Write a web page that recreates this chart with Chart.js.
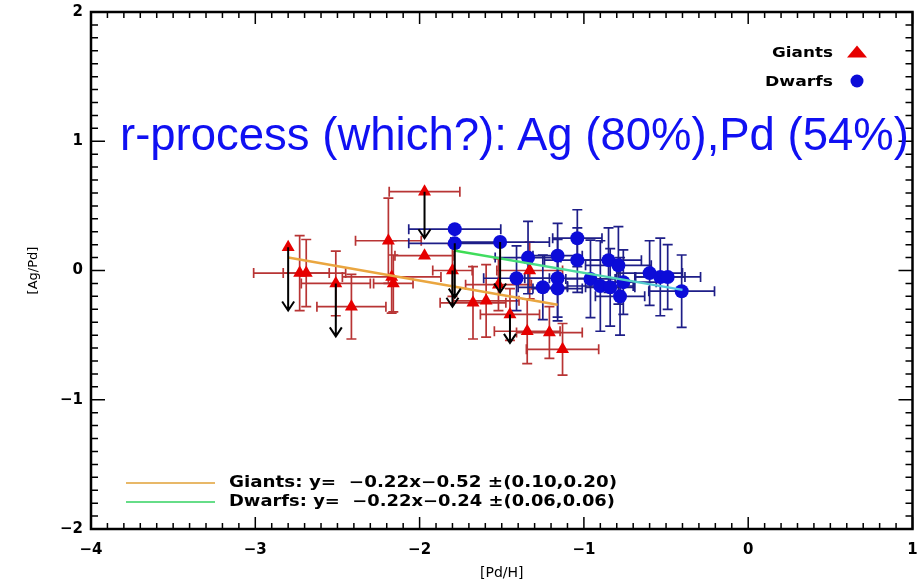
<!DOCTYPE html>
<html><head><meta charset="utf-8">
<script src="https://cdn.jsdelivr.net/npm/chart.js@4/dist/chart.umd.min.js"></script>
<style>
html,body{margin:0;padding:0;background:#fff;}
#wrap{position:relative;width:920px;height:584px;}
#title{position:absolute;left:120px;top:112px;font-family:"Liberation Sans",Arial,sans-serif;font-size:45.5px;line-height:45.5px;color:#1010f2;white-space:nowrap;}
</style></head><body>
<div id="wrap"><canvas id="c" width="920" height="584"></canvas><div id="title">r-process (which?): Ag (80%),Pd (54%)</div></div>
<script>
// ---- data ----
const giantsX    = [-2.80,-2.73,-2.69,-2.51,-2.415,-2.19,-2.17,-2.16,-1.97,-1.97,-1.80,-1.675,-1.595,-1.52,-1.45,-1.345,-1.21,-1.13,-1.33];
const giantsY    = [ 0.18,-0.02,-0.02,-0.10,-0.28, 0.23,-0.05,-0.10, 0.61, 0.115, 0.00,-0.25,-0.235,-0.11,-0.34,-0.47,-0.48,-0.61, 0.00];
const giantsXErr = [ 0.00, 0.28, 0.14, 0.21, 0.21, 0.20, 0.30, 0.12, 0.215,0.18, 0.12, 0.20, 0.20, 0.20, 0.18, 0.20, 0.20, 0.22, 0.20];
const giantsYErr = [ 0.00, 0.29, 0.26, 0.25, 0.25, 0.33, 0.28, 0.22, 0.00, 0.00, 0.20, 0.28, 0.28, 0.20, 0.20, 0.25, 0.20, 0.20, 0.22];
const giantsLimitTo = [-0.31,null,null,-0.51,null,null,null,null,0.25,null,-0.28,null,null,null,-0.56,null,null,null,null];

const dwarfsX    = [-1.786,-1.786,-1.51,-1.41,-1.34,-1.25,-1.16,-1.16,-1.16,-1.04,-1.04,-0.96,-0.90,-0.85,-0.84,-0.79,-0.78,-0.76,-0.60,-0.535,-0.49,-0.405];
const dwarfsY    = [ 0.32, 0.21, 0.22,-0.06, 0.10,-0.13, 0.115,-0.06,-0.14, 0.25, 0.08,-0.065,-0.12, 0.08,-0.13, 0.04,-0.20,-0.09,-0.02,-0.05,-0.05,-0.16];
const dwarfsXErr = [ 0.28, 0.28, 0.30, 0.20, 0.20, 0.15, 0.15, 0.20, 0.15, 0.15, 0.20, 0.15, 0.20, 0.20, 0.15, 0.20, 0.15, 0.20, 0.20, 0.15, 0.20, 0.20];
const dwarfsYErr = [ 0.00, 0.00, 0.00, 0.25, 0.28, 0.25, 0.25, 0.30, 0.25, 0.22, 0.25, 0.30, 0.35, 0.25, 0.30, 0.30, 0.30, 0.25, 0.25, 0.30, 0.25, 0.28];
const dwarfsLimitTo = [null,-0.21,-0.17,null,null,null,null,null,null,null,null,null,null,null,null,null,null,null,null,null,null,null];

const giantsFitX = [-2.80, -1.16];
const giantsFitY = [ 0.10, -0.265];
const dwarfsFitX = [-1.79, -0.40];
const dwarfsFitY = [ 0.155, -0.15];

const xTicks = [-4,-3,-2,-1,0,1];
const yTicks = [-2,-1,0,1,2];
const fitLabels = ["Giants: y=  \u22120.22x\u22120.52 \u00b1(0.10,0.20)", "Dwarfs: y=  \u22120.22x\u22120.24 \u00b1(0.06,0.06)"];
const seriesNames = ["Giants","Dwarfs"];

// ---- styles ----
const RED = '#e60000', BLUE = '#0c0cd8', RED_ERR = '#b83434', BLUE_ERR = '#1e1e88';
const ORANGE = '#eaa640';

const pts = (xs, ys) => xs.map((x,i)=>({x, y: ys[i]}));
const minus = v => v < 0 ? '\u2212' + Math.abs(v) : String(v);

function drawErrors(ctx, sx, sy, xs, ys, xe, ye, color){
  ctx.strokeStyle = color; ctx.lineWidth = 1.7;
  for (let i=0;i<xs.length;i++){
    const px = sx.getPixelForValue(xs[i]), py = sy.getPixelForValue(ys[i]);
    ctx.beginPath();
    if (xe[i] > 0){
      const x0 = sx.getPixelForValue(xs[i]-xe[i]), x1 = sx.getPixelForValue(xs[i]+xe[i]);
      ctx.moveTo(x0,py); ctx.lineTo(x1,py);
      ctx.moveTo(x0,py-5); ctx.lineTo(x0,py+5);
      ctx.moveTo(x1,py-5); ctx.lineTo(x1,py+5);
    }
    if (ye[i] > 0){
      const y0 = sy.getPixelForValue(ys[i]-ye[i]), y1 = sy.getPixelForValue(ys[i]+ye[i]);
      ctx.moveTo(px,y0); ctx.lineTo(px,y1);
      ctx.moveTo(px-5,y0); ctx.lineTo(px+5,y0);
      ctx.moveTo(px-5,y1); ctx.lineTo(px+5,y1);
    }
    ctx.stroke();
  }
}
function drawArrows(ctx, sx, sy, xs, ys, tips){
  ctx.strokeStyle = '#000'; ctx.lineWidth = 2;
  for (let i=0;i<xs.length;i++){
    if (tips[i] === null) continue;
    const px = sx.getPixelForValue(xs[i]), py = sy.getPixelForValue(ys[i]), ty = sy.getPixelForValue(tips[i]);
    ctx.beginPath();
    ctx.moveTo(px,py); ctx.lineTo(px,ty);
    ctx.moveTo(px-6,ty-9); ctx.lineTo(px,ty); ctx.lineTo(px+6,ty-9);
    ctx.stroke();
  }
}
function fitText(ctx, text, x, y, width){
  const w = ctx.measureText(text).width;
  ctx.save(); ctx.translate(x, y); ctx.scale(width/w, 1);
  ctx.fillText(text, 0, 0); ctx.restore();
}

const errPlugin = {
  id:'errs',
  beforeDatasetsDraw(chart){
    const {ctx, scales:{x,y}} = chart;
    ctx.save();
    drawErrors(ctx,x,y,giantsX,giantsY,giantsXErr,giantsYErr,RED_ERR);
    drawErrors(ctx,x,y,dwarfsX,dwarfsY,dwarfsXErr,dwarfsYErr,BLUE_ERR);
    ctx.restore();
  },
  afterDatasetsDraw(chart){
    const {ctx, scales:{x,y}} = chart;
    ctx.save();
    drawArrows(ctx,x,y,giantsX,giantsY,giantsLimitTo);
    drawArrows(ctx,x,y,dwarfsX,dwarfsY,dwarfsLimitTo);
    ctx.restore();
  }
};

const framePlugin = {
  id:'frame',
  afterDraw(chart){
    const {ctx, chartArea:a, scales:{x,y}} = chart;
    ctx.save();
    ctx.strokeStyle = '#000';
    ctx.lineWidth = 1.5;
    ctx.beginPath();
    for (let k=-40;k<=10;k++){
      const v = k/10, px = x.getPixelForValue(v), major = (k%10===0), L = major?12:6;
      ctx.moveTo(px,a.bottom); ctx.lineTo(px,a.bottom-L);
      ctx.moveTo(px,a.top); ctx.lineTo(px,a.top+L);
    }
    for (let k=-20;k<=20;k++){
      const v = k/10, py = y.getPixelForValue(v), major = (k%10===0), L = major?14:7;
      ctx.moveTo(a.left,py); ctx.lineTo(a.left+L,py);
      ctx.moveTo(a.right,py); ctx.lineTo(a.right-L,py);
    }
    ctx.stroke();
    ctx.lineWidth = 2.5;
    ctx.strokeRect(a.left, a.top, a.right-a.left, a.bottom-a.top);

    // top-right legend
    ctx.fillStyle = '#000';
    ctx.font = 'bold 14px "DejaVu Sans"';
    ctx.textAlign = 'left'; ctx.textBaseline = 'middle';
    fitText(ctx, seriesNames[0], 772, 53, 61);
    fitText(ctx, seriesNames[1], 765, 82, 68);
    ctx.fillStyle = RED;
    ctx.beginPath(); ctx.moveTo(847,57.5); ctx.lineTo(857,45.5); ctx.lineTo(867,57.5); ctx.closePath(); ctx.fill();
    ctx.fillStyle = BLUE;
    ctx.beginPath(); ctx.arc(857,81,6.5,0,Math.PI*2); ctx.fill();

    // bottom legend
    ctx.lineWidth = 2;
    ctx.strokeStyle = '#e8b868';
    ctx.beginPath(); ctx.moveTo(126,483); ctx.lineTo(215,483); ctx.stroke();
    ctx.strokeStyle = '#66dd88';
    ctx.beginPath(); ctx.moveTo(126,502); ctx.lineTo(215,502); ctx.stroke();
    ctx.fillStyle = '#000';
    ctx.font = 'bold 15px "DejaVu Sans"';
    fitText(ctx, fitLabels[0], 229, 483, 388);
    fitText(ctx, fitLabels[1], 229, 502, 386);
    ctx.restore();
  }
};

new Chart(document.getElementById('c'), {
  type:'scatter',
  data:{ datasets:[
    { type:'line', data: pts(giantsFitX, giantsFitY), borderColor: ORANGE, borderWidth:2.5, pointRadius:0, order:0 },
    { type:'line', data: pts(dwarfsFitX, dwarfsFitY), borderWidth:2.5, pointRadius:0, order:0,
      borderColor(c){
        const ch = c.chart; if (!ch.chartArea) return '#3cdc4c';
        const g = ch.ctx.createLinearGradient(ch.scales.x.getPixelForValue(dwarfsFitX[0]),0,ch.scales.x.getPixelForValue(dwarfsFitX[1]),0);
        g.addColorStop(0,'#3cdc4c'); g.addColorStop(0.5,'#4edc9c'); g.addColorStop(1,'#5ac4e8');
        return g;
      } },
    { label: seriesNames[1], data: pts(dwarfsX, dwarfsY), pointStyle:'circle', pointRadius:7, backgroundColor: BLUE, borderColor: BLUE, borderWidth:0, order:1 },
    { label: seriesNames[0], data: pts(giantsX, giantsY), pointStyle:'triangle', pointRadius:7.5, backgroundColor: RED, borderColor: RED, borderWidth:0, order:2 }
  ]},
  options:{
    responsive:false, animation:false, devicePixelRatio:1,
    layout:{ padding:{ top:12, right:3, left:0, bottom:0 } },
    plugins:{ legend:{display:false}, tooltip:{enabled:false} },
    scales:{
      x:{ type:'linear', position:'bottom', min:-4, max:1,
        afterBuildTicks(s){ s.ticks = xTicks.map(v=>({value:v})); },
        afterFit(s){ s.height = 55; s.paddingLeft = 0; s.paddingRight = 0; },
        grid:{ display:false, drawTicks:false }, border:{ display:false },
        ticks:{ padding:12, color:'#000', font:{ family:'DejaVu Sans', size:15, weight:'bold' }, callback: minus, maxRotation:0, autoSkip:false },
        title:{ display:true, text:'[Pd/H]', color:'#000', font:{ family:'DejaVu Sans', size:14 }, padding:{ top:0, bottom:2 } } },
      y:{ type:'linear', position:'left', min:-2, max:2,
        afterBuildTicks(s){ s.ticks = yTicks.map(v=>({value:v})); },
        afterFit(s){ s.width = 91; s.paddingTop = 0; s.paddingBottom = 0; },
        grid:{ display:false, drawTicks:false }, border:{ display:false },
        ticks:{ padding:8, color:'#000', font:{ family:'DejaVu Sans', size:15, weight:'bold' }, callback: minus },
        title:{ display:true, text:'[Ag/Pd]', color:'#000', font:{ family:'DejaVu Sans', size:13 }, padding:{ top:26, bottom:0 } } }
    }
  },
  plugins:[errPlugin, framePlugin]
});
</script>
</body></html>
